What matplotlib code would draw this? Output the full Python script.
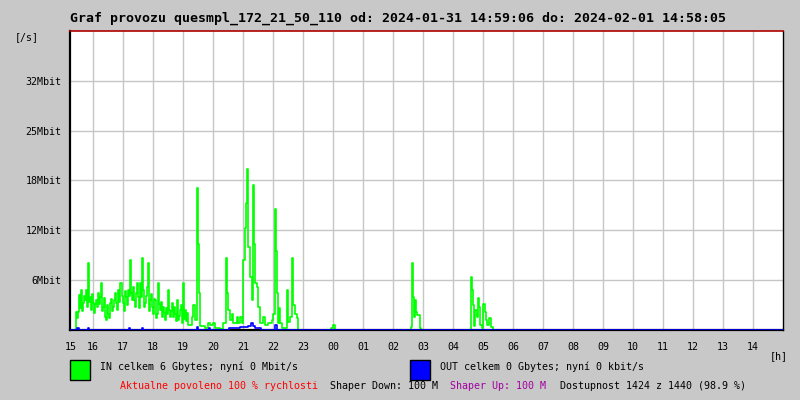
import matplotlib
matplotlib.use("Agg")
from matplotlib import pyplot as plt
from matplotlib.patches import Rectangle

# IN traffic in Mbit/s, time in minutes since 15:00 (2024-01-31)
# busy afternoon part, one sample per 2 minutes from 15:26
in_dense_start = 26
in_dense_mbit = [2.3, 1.5, 2.3, 4.5, 2.8, 5.1, 2.4, 3.5, 4.4, 3.8, 5.1, 3.0, 8.6, 3.6, 4.2, 2.6,
                 4.6, 3.5, 2.2, 3.3, 3.8, 2.9, 4.7, 3.4, 4.3, 6.0, 2.5, 3.0, 4.1, 1.7, 1.3, 3.2,
                 2.1, 1.6, 3.5, 4.0, 2.4, 3.0, 3.9, 4.7, 3.5, 2.6, 5.1, 3.6, 6.1, 6.1, 4.4, 3.5,
                 2.5, 5.0, 4.3, 3.2, 5.1, 4.4, 9.0, 4.8, 3.8, 5.5, 3.9, 3.0, 4.8, 6.0, 4.3, 2.8,
                 6.0, 4.2, 9.3, 5.1, 3.0, 3.5, 4.4, 5.5, 8.6, 2.4, 3.8, 4.6, 3.0, 2.1, 4.0, 3.8,
                 1.6, 2.1, 6.0, 3.3, 2.6, 3.6, 1.7, 3.0, 2.2, 1.3, 2.8, 2.1, 5.1, 2.6, 1.7, 2.4,
                 3.5, 1.7, 3.0, 2.1, 1.2, 3.8, 1.3, 1.8, 2.6, 3.2, 0.9, 6.0, 1.4, 2.6, 1.1, 2.2,
                 0.6]
# the rest of the day
in_minutes = [258, 260, 264, 268, 270, 272, 274, 280, 284, 290, 294, 300, 304, 314, 320, 326,
              328, 330, 334, 338, 340, 348, 350, 354, 358, 360, 364, 366, 368, 370, 374, 378,
              380, 382, 384, 388, 390, 394, 400, 404, 410, 418, 420, 424, 426, 428, 430, 432,
              434, 438, 444, 448, 450, 454, 458, 460, 464, 468, 470,
              536, 540, 544,
              696, 698, 700, 702, 704, 706, 708, 712, 714, 716,
              816, 818, 820, 822, 824, 828, 830, 832, 834, 838, 840, 844, 846, 848, 852, 856,
              860, 1440]
in_mbit = [1.7, 3.2, 1.3, 18.2, 11.1, 4.7, 0.5, 0.5, 0.2, 0.9, 0.6, 0.9, 0.2, 0.1, 0.9, 9.3,
           4.7, 2.6, 1.3, 2.1, 0.9, 1.7, 0.9, 1.7, 0.9, 9.0, 13.1, 16.3, 20.7, 10.6, 6.8, 3.8,
           18.6, 11.1, 6.0, 5.5, 2.9, 0.9, 1.7, 0.6, 0.9, 1.3, 2.1, 15.6, 10.2, 4.7, 0.9, 2.8,
           0.9, 0.3, 0.3, 5.1, 1.0, 1.7, 9.2, 3.2, 2.0, 1.5, 0,
           0.3, 0.6, 0,
           0.4, 8.6, 4.2, 1.7, 3.9, 2.3, 1.9, 1.9, 0.3, 0,
           6.8, 5.1, 3.2, 0.5, 2.6, 1.7, 4.1, 3.0, 0.7, 0.3, 3.3, 2.3, 1.3, 0.7, 1.5, 0.4,
           0, 0]

# OUT traffic, Mbit/s
out_minutes = [14, 28, 32, 50, 52, 132, 134, 158, 160, 268, 270, 292, 294, 332, 354, 370, 376,
               380, 384, 396, 424, 428, 430, 1440]
out_mbit = [0, 0.3, 0, 0.3, 0, 0.3, 0, 0.3, 0, 0.4, 0, 0.2, 0, 0.3, 0.4, 0.5, 0.9, 0.5, 0.3, 0,
            0.6, 0, 0, 0]

hour_labels = ['16', '17', '18', '19', '20', '21', '22', '23', '00', '01', '02', '03',
               '04', '05', '06', '07', '08', '09', '10', '11', '12', '13', '14']
y_ticks = [6.4, 12.8, 19.2, 25.6, 32.0]
y_labels = ['6Mbit', '12Mbit', '18Mbit', '25Mbit', '32Mbit']

bg = '#c8c8c8'
mono = 'DejaVu Sans Mono'

all_minutes = [14] + [in_dense_start + 2 * i for i in range(len(in_dense_mbit))] + in_minutes
all_mbit = [0] + in_dense_mbit + in_mbit

fig = plt.figure(figsize=(8, 4), dpi=100, facecolor=bg)
ax = fig.add_axes([70 / 800, 1 - 330 / 400, 713 / 800, 299 / 400])
ax.set_facecolor('white')

ax.plot(all_minutes, all_mbit, drawstyle='steps-post', color='#00ff00', lw=1.2, zorder=2)
ax.plot(out_minutes, out_mbit, drawstyle='steps-post', color='#0000ff', lw=1.2, zorder=3)

ax.set_xlim(14, 1440)
ax.set_ylim(0, 38.4)
ax.set_xticks([60 * (i + 1) for i in range(len(hour_labels))])
ax.set_xticklabels(hour_labels, family=mono, fontsize=7.2)
ax.set_yticks(y_ticks)
ax.set_yticklabels(y_labels, family=mono, fontsize=7.2)
ax.tick_params(length=0, pad=6)
ax.tick_params(axis='x', pad=8.5)
ax.grid(True, color='#c6c6c6', lw=1.0, zorder=1)
ax.set_axisbelow(True)

for side in ['left', 'bottom']:
    ax.spines[side].set_linewidth(1.6)
    ax.spines[side].set_color('black')
ax.spines['right'].set_linewidth(1.0)
ax.spines['top'].set_color('#b00000')
ax.spines['top'].set_linewidth(1.2)

fig.text(70 / 800, 1 - 18 / 400, 'Graf provozu quesmpl_172_21_50_110 od: 2024-01-31 14:59:06 do: 2024-02-01 14:58:05',
         family=mono, fontsize=9.5, fontweight='bold', va='center', ha='left')
fig.text(15 / 800, 1 - 37 / 400, '[/s]', family=mono, fontsize=7.2, va='center', ha='left')
fig.text(71 / 800, 1 - 347 / 400, '15', family=mono, fontsize=7.2, va='center', ha='center')
fig.text(770 / 800, 1 - 356 / 400, '[h]', family=mono, fontsize=7.2, va='center', ha='left')

fig.patches.append(Rectangle((70 / 800, 1 - 380 / 400), 20 / 800, 20 / 400, transform=fig.transFigure,
                             facecolor='#00ff00', edgecolor='black', lw=1.0))
fig.patches.append(Rectangle((410 / 800, 1 - 380 / 400), 20 / 800, 20 / 400, transform=fig.transFigure,
                             facecolor='#0000ff', edgecolor='black', lw=1.0))
fig.text(100 / 800, 1 - 367 / 400, 'IN celkem 6 Gbytes; nyní 0 Mbit/s', family=mono, fontsize=7.2,
         va='center', ha='left')
fig.text(440 / 800, 1 - 367 / 400, 'OUT celkem 0 Gbytes; nyní 0 kbit/s', family=mono, fontsize=7.2,
         va='center', ha='left')

fig.text(120 / 800, 1 - 386 / 400, 'Aktualne povoleno 100 % rychlosti', family=mono, fontsize=7.2,
         color='#ff0000', va='center', ha='left')
fig.text(330 / 800, 1 - 386 / 400, 'Shaper Down: 100 M', family=mono, fontsize=7.2,
         color='black', va='center', ha='left')
fig.text(450 / 800, 1 - 386 / 400, 'Shaper Up: 100 M', family=mono, fontsize=7.2,
         color='#a000a0', va='center', ha='left')
fig.text(560 / 800, 1 - 386 / 400, 'Dostupnost 1424 z 1440 (98.9 %)', family=mono, fontsize=7.2,
         color='black', va='center', ha='left')

fig.savefig('out.png', dpi=100, facecolor=bg)
